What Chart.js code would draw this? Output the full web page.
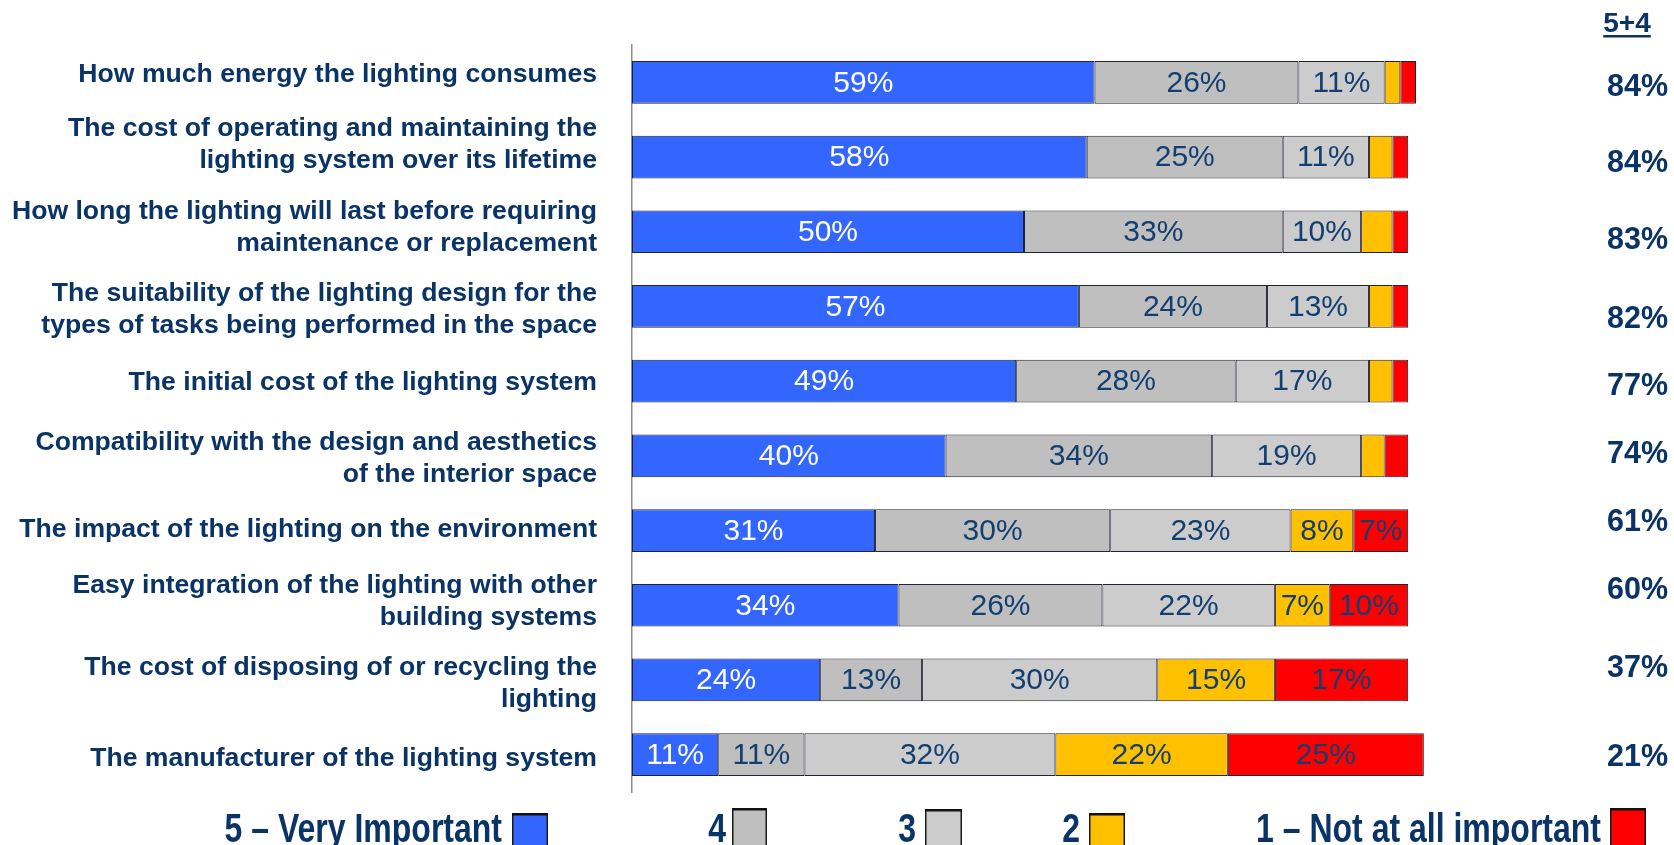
<!DOCTYPE html>
<html>
<head>
<meta charset="utf-8">
<script src="https://cdn.jsdelivr.net/npm/chart.js@4.4.1/dist/chart.umd.min.js"></script>
<style>
  html, body { margin: 0; padding: 0; background: #ffffff; overflow: hidden; }
  #wrap { width: 1674px; height: 845px; position: relative; }
</style>
</head>
<body>
<div id="wrap"><canvas id="c" width="1674" height="845"></canvas></div>
<script>
// Survey: importance of lighting-system factors (share of respondents, %)
const categories = [
  'How much energy the lighting consumes',
  ['The cost of operating and maintaining the', 'lighting system over its lifetime'],
  ['How long the lighting will last before requiring', 'maintenance or replacement'],
  ['The suitability of the lighting design for the', 'types of tasks being performed in the space'],
  'The initial cost of the lighting system',
  ['Compatibility with the design and aesthetics', 'of the interior space'],
  'The impact of the lighting on the environment',
  ['Easy integration of the lighting with other', 'building systems'],
  ['The cost of disposing of or recycling the', 'lighting'],
  'The manufacturer of the lighting system'
];
const seriesNames = ['5 – Very Important', '4', '3', '2', '1 – Not at all important'];
const veryImportant = [59, 58, 50, 57, 49, 40, 31, 34, 24, 11];
const rating4      = [26, 25, 33, 24, 28, 34, 30, 26, 13, 11];
const rating3      = [11, 11, 10, 13, 17, 19, 23, 22, 30, 32];
const rating2      = [2, 3, 4, 3, 3, 3, 8, 7, 15, 22];
const notImportant = [2, 2, 2, 2, 2, 3, 7, 10, 17, 25];
const topTwoBox    = [84, 84, 83, 82, 77, 74, 61, 60, 37, 21];
const topTwoHeader = '5+4';

// styling
const NAVY = '#0a3366';
const seriesColors = ['#3366ff', '#bfbfbf', '#cccccc', '#ffc000', '#ff0000'];
const FONT = '"Liberation Sans", Arial, Helvetica, sans-serif';
const LABEL_MIN = 5;             // segments smaller than this stay unlabeled
const sideNudge = [5, 7, 9, 13, 5, -1, -8, -15, -11, 3];
const captionNudge = [-8, -12, -4, 3, 2, 3, -1, -4, 4, 4];
const legendSlots = [            // right edge of each legend caption, box geometry
  { textRight: 502, boxX: 512, boxW: 36, boxTop: 813 },
  { textRight: 726, boxX: 732, boxW: 35, boxTop: 808 },
  { textRight: 916, boxX: 925, boxW: 37, boxTop: 809 },
  { textRight: 1080, boxX: 1089, boxW: 36, boxTop: 813 },
  { textRight: 1601, boxX: 1610, boxW: 36, boxTop: 808 }
];

const seriesData = [veryImportant, rating4, rating3, rating2, notImportant];

// category captions, right-aligned against the axis
const categoryCaptions = {
  id: 'categoryCaptions',
  afterDraw(chart) {
    const ctx = chart.ctx;
    const yScale = chart.scales.y;
    const lineH = 32;
    ctx.save();
    ctx.fillStyle = NAVY;
    ctx.font = 'bold 26.6px ' + FONT;
    ctx.textAlign = 'right';
    ctx.textBaseline = 'middle';
    chart.data.labels.forEach((lab, i) => {
      const lines = Array.isArray(lab) ? lab : [lab];
      const cy = yScale.getPixelForValue(i) + captionNudge[i];
      const y0 = cy - (lines.length - 1) * lineH / 2;
      lines.forEach((t, k) => ctx.fillText(t, 597, y0 + k * lineH));
    });
    ctx.restore();
  }
};

// value labels centred inside each bar segment
const segmentLabels = {
  id: 'segmentLabels',
  afterDatasetsDraw(chart) {
    const ctx = chart.ctx;
    ctx.save();
    ctx.font = '30px ' + FONT;
    ctx.textAlign = 'center';
    ctx.textBaseline = 'middle';
    chart.data.datasets.forEach((ds, i) => {
      const meta = chart.getDatasetMeta(i);
      meta.data.forEach((bar, j) => {
        const v = ds.data[j];
        if (v < LABEL_MIN) return;
        const p = bar.getProps(['x', 'base', 'y'], true);
        ctx.fillStyle = i === 0 ? '#ffffff' : '#123f70';
        ctx.fillText(v + '%', (p.x + p.base) / 2, p.y + 1);
      });
    });
    ctx.restore();
  }
};

// "5+4" column at the right
const topTwoColumn = {
  id: 'topTwoColumn',
  afterDraw(chart) {
    const ctx = chart.ctx;
    const yScale = chart.scales.y;
    ctx.save();
    ctx.fillStyle = NAVY;
    ctx.font = 'bold 28px ' + FONT;
    ctx.textAlign = 'center';
    ctx.textBaseline = 'alphabetic';
    const hx = 1627;
    ctx.fillText(topTwoHeader, hx, 32);
    const hw = ctx.measureText(topTwoHeader).width;
    ctx.fillRect(hx - hw / 2, 35, hw, 2.5);
    ctx.font = 'bold 30.5px ' + FONT;
    ctx.textAlign = 'right';
    ctx.textBaseline = 'middle';
    topTwoBox.forEach((v, i) => {
      ctx.fillText(v + '%', 1668, yScale.getPixelForValue(i) + sideNudge[i]);
    });
    ctx.restore();
  }
};

// legend: caption followed by its colour swatch
const swatchLegend = {
  id: 'swatchLegend',
  afterDraw(chart) {
    const ctx = chart.ctx;
    const H = chart.height;
    ctx.save();
    chart.data.datasets.forEach((ds, i) => {
      const s = legendSlots[i];
      ctx.fillStyle = ds.backgroundColor;
      ctx.fillRect(s.boxX, s.boxTop, s.boxW, H - s.boxTop + 2);
      ctx.strokeStyle = '#1a1a1a';
      ctx.lineWidth = 1.5;
      ctx.strokeRect(s.boxX + 0.75, s.boxTop + 0.75, s.boxW - 1.5, H - s.boxTop + 4);
      ctx.fillStyle = '#111111';
      ctx.fillRect(s.boxX, s.boxTop, s.boxW, 2.5);
      ctx.save();
      ctx.translate(s.textRight, 842);
      ctx.scale(0.8, 1);
      ctx.font = 'bold 40px ' + FONT;
      ctx.fillStyle = NAVY;
      ctx.textAlign = 'right';
      ctx.textBaseline = 'alphabetic';
      ctx.fillText(ds.label, 0, 0);
      ctx.restore();
    });
    ctx.restore();
  }
};

const datasets = seriesNames.map((name, i) => ({
  label: name,
  data: seriesData[i],
  backgroundColor: seriesColors[i],
  borderColor: '#222233',
  borderWidth: 1,
  borderSkipped: false,
  barPercentage: 0.572,
  categoryPercentage: 1,
  clip: false
}));

new Chart(document.getElementById('c'), {
  type: 'bar',
  data: { labels: categories, datasets },
  options: {
    indexAxis: 'y',
    responsive: false,
    animation: false,
    devicePixelRatio: 1,
    layout: { padding: { left: 0, right: 258, top: 45, bottom: 53 } },
    plugins: {
      legend: { display: false },
      tooltip: { enabled: false }
    },
    scales: {
      x: { stacked: true, min: 0, max: 100, display: false },
      y: {
        stacked: true,
        grid: { display: false, drawTicks: false },
        border: { display: true, color: '#8c8c9c', width: 1.5 },
        ticks: { display: false },
        afterFit(scale) { scale.width = 632; }
      }
    }
  },
  plugins: [segmentLabels, categoryCaptions, topTwoColumn, swatchLegend]
});
</script>
</body>
</html>
